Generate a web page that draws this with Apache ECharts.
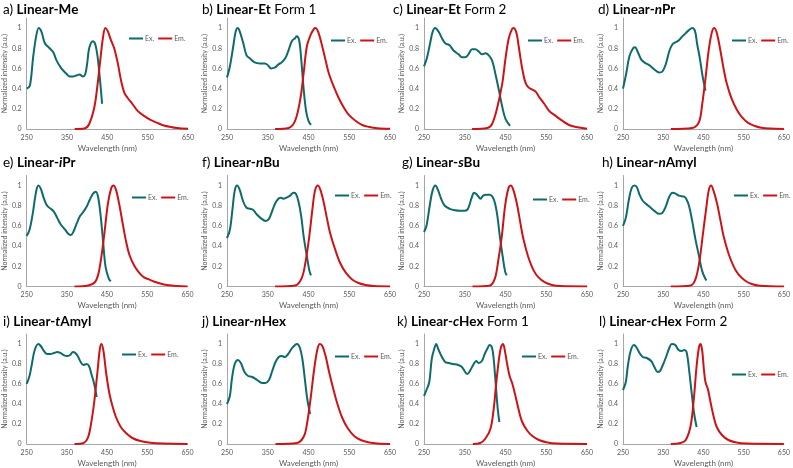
<!DOCTYPE html>
<html><head><meta charset="utf-8">
<script src="https://cdn.jsdelivr.net/npm/echarts@6/dist/echarts.min.js"></script>
<style>html,body{margin:0;padding:0;background:#fff}#c{width:793px;height:468px}</style>
</head><body><div id="c"></div>
<script>
// ---- data ----
const xTicks = [250, 350, 450, 550, 650];
const yTicks = [0, 0.2, 0.4, 0.6, 0.8, 1];
const seriesNames = ['Ex.', 'Em.'];
const titles = [
  ['a) ', 'Linear-Me'],
  ['b) ', 'Linear-Et', ' Form 1'],
  ['c) ', 'Linear-Et', ' Form 2'],
  ['d) ', 'Linear-', 'n', 'Pr'],
  ['e) ', 'Linear-', 'i', 'Pr'],
  ['f) ', 'Linear-', 'n', 'Bu'],
  ['g) ', 'Linear-', 's', 'Bu'],
  ['h) ', 'Linear-', 'n', 'Amyl'],
  ['i) ', 'Linear-', 't', 'Amyl'],
  ['j) ', 'Linear-', 'n', 'Hex'],
  ['k) ', 'Linear-', 'c', 'Hex', ' Form 1'],
  ['l) ', 'Linear-', 'c', 'Hex', ' Form 2']
];
const exA = [[250,0.40],[258,0.43],[266,0.71],[274,0.93],[280,1.0],[287,0.96],[295,0.85],[307,0.80],[316,0.76],[324,0.68],[336,0.60],[348,0.55],[357,0.52],[365,0.52],[373,0.53],[381,0.54],[389,0.52],[395,0.54],[400,0.65],[405,0.80],[414,0.87],[420,0.84],[426,0.71],[432,0.48],[437,0.25]];
const emA = [[369,0],[393,0.005],[405,0.05],[418,0.22],[426,0.45],[433,0.70],[439,0.90],[445,1.0],[451,0.97],[459,0.88],[467,0.80],[476,0.65],[484,0.48],[492,0.36],[500,0.31],[512,0.25],[525,0.18],[541,0.13],[557,0.09],[574,0.06],[590,0.035],[607,0.02],[623,0.01],[650,0.002]];
const exB = [[250,0.51],[257,0.62],[265,0.81],[271,0.96],[276,1.0],[281,0.97],[290,0.85],[298,0.73],[306,0.70],[318,0.66],[331,0.65],[343,0.65],[351,0.63],[358,0.60],[368,0.61],[376,0.64],[384,0.66],[393,0.70],[401,0.78],[409,0.87],[417,0.90],[421,0.92],[427,0.88],[432,0.70],[438,0.40],[444,0.18],[450,0.08],[456,0.04]];
const emB = [[368,0],[401,0.01],[417,0.08],[430,0.30],[438,0.55],[446,0.82],[455,0.93],[463,0.99],[467,1.0],[474,0.96],[483,0.83],[492,0.68],[500,0.55],[512,0.42],[525,0.30],[537,0.21],[549,0.14],[566,0.08],[582,0.04],[599,0.02],[619,0.007],[650,0.002]];
const exC = [[250,0.62],[257,0.70],[265,0.85],[271,0.96],[277,1.0],[285,0.97],[294,0.90],[302,0.85],[313,0.83],[322,0.78],[335,0.74],[343,0.71],[351,0.71],[359,0.74],[368,0.79],[376,0.79],[384,0.77],[392,0.74],[401,0.75],[409,0.73],[417,0.68],[425,0.55],[434,0.38],[442,0.22],[450,0.10],[461,0.03]];
const emC = [[368,0],[405,0.01],[417,0.05],[429,0.20],[442,0.45],[450,0.70],[458,0.90],[466,0.99],[470,1.0],[477,0.95],[482,0.83],[491,0.60],[499,0.46],[507,0.41],[516,0.39],[524,0.37],[532,0.32],[545,0.25],[557,0.18],[573,0.13],[590,0.08],[606,0.04],[623,0.02],[650,0.003]];
const exD = [[250,0.40],[258,0.55],[266,0.72],[275,0.80],[280,0.81],[287,0.76],[295,0.69],[303,0.66],[316,0.63],[328,0.59],[340,0.56],[348,0.57],[357,0.65],[365,0.77],[373,0.84],[381,0.86],[389,0.88],[398,0.92],[406,0.95],[414,0.98],[422,1.0],[429,0.97],[434,0.85],[441,0.70],[448,0.52],[455,0.38]];
const emD = [[369,0],[422,0.01],[439,0.07],[447,0.25],[455,0.50],[463,0.78],[471,0.96],[477,1.0],[484,0.94],[492,0.78],[500,0.60],[508,0.45],[520,0.30],[533,0.19],[545,0.12],[561,0.06],[578,0.03],[594,0.012],[615,0.004],[650,0.001]];
const exE = [[250,0.50],[257,0.56],[265,0.72],[273,0.93],[279,1.0],[285,0.97],[293,0.87],[301,0.80],[310,0.77],[318,0.74],[326,0.68],[334,0.62],[346,0.56],[354,0.52],[360,0.51],[366,0.54],[375,0.63],[383,0.70],[391,0.74],[399,0.79],[407,0.86],[415,0.92],[422,0.94],[428,0.88],[434,0.70],[440,0.45],[446,0.20],[454,0.08],[459,0.05]];
const emE = [[369,0],[403,0.01],[419,0.04],[428,0.12],[436,0.30],[444,0.55],[452,0.82],[460,0.97],[466,1.0],[472,0.96],[480,0.82],[489,0.62],[497,0.45],[505,0.32],[517,0.21],[529,0.14],[542,0.09],[554,0.07],[566,0.05],[582,0.03],[599,0.015],[623,0.005],[650,0.001]];
const exF = [[250,0.48],[257,0.56],[263,0.75],[269,0.95],[275,1.0],[281,0.96],[290,0.84],[298,0.78],[306,0.77],[314,0.76],[322,0.72],[335,0.67],[345,0.65],[353,0.67],[361,0.75],[369,0.83],[376,0.87],[382,0.88],[388,0.87],[396,0.88],[405,0.90],[413,0.93],[419,0.92],[425,0.85],[432,0.70],[438,0.50],[446,0.30],[452,0.16],[456,0.11]];
const emF = [[368,0],[417,0.01],[433,0.08],[443,0.25],[452,0.50],[460,0.78],[466,0.95],[473,1.0],[479,0.96],[487,0.84],[495,0.68],[503,0.53],[516,0.36],[528,0.23],[541,0.14],[557,0.07],[573,0.035],[590,0.015],[610,0.005],[650,0.001]];
const exG = [[250,0.54],[256,0.60],[264,0.80],[271,0.95],[278,1.0],[284,0.96],[293,0.86],[301,0.80],[313,0.77],[326,0.755],[338,0.75],[350,0.75],[358,0.77],[367,0.88],[373,0.93],[380,0.91],[389,0.87],[395,0.90],[404,0.91],[412,0.91],[418,0.89],[424,0.83],[430,0.70],[436,0.50],[443,0.30],[449,0.15],[453,0.11]];
const emG = [[369,0],[412,0.01],[424,0.08],[432,0.25],[441,0.50],[449,0.80],[457,0.97],[463,1.0],[469,0.96],[478,0.82],[486,0.64],[494,0.47],[506,0.29],[519,0.16],[531,0.09],[547,0.04],[564,0.015],[584,0.005],[650,0.001]];
const exH = [[250,0.60],[257,0.68],[265,0.87],[272,0.98],[279,1.0],[285,0.98],[291,0.91],[299,0.85],[307,0.82],[316,0.79],[328,0.75],[340,0.72],[348,0.73],[357,0.80],[365,0.89],[373,0.93],[381,0.92],[389,0.90],[402,0.89],[407,0.87],[414,0.80],[422,0.65],[430,0.47],[439,0.30],[447,0.15],[457,0.06]];
const emH = [[369,0],[418,0.01],[430,0.07],[440,0.25],[448,0.50],[457,0.78],[463,0.95],[469,1.0],[475,0.95],[484,0.82],[492,0.66],[500,0.50],[512,0.33],[525,0.20],[537,0.12],[553,0.06],[570,0.025],[590,0.008],[650,0.001]];
const exI = [[250,0.60],[257,0.68],[263,0.80],[270,0.94],[279,1.0],[285,0.98],[293,0.93],[301,0.90],[309,0.90],[318,0.91],[326,0.92],[334,0.91],[342,0.89],[350,0.88],[358,0.89],[365,0.92],[371,0.91],[377,0.88],[383,0.83],[391,0.79],[399,0.80],[405,0.78],[411,0.70],[418,0.60],[424,0.47]];
const emI = [[369,0],[391,0.01],[402,0.06],[410,0.20],[418,0.42],[426,0.72],[432,0.95],[436,1.0],[441,0.93],[448,0.70],[456,0.50],[464,0.37],[472,0.27],[484,0.17],[497,0.11],[513,0.06],[533,0.03],[558,0.012],[590,0.004],[650,0.001]];
const exJ = [[250,0.40],[257,0.48],[262,0.65],[269,0.80],[277,0.84],[284,0.81],[293,0.72],[302,0.68],[312,0.67],[324,0.64],[336,0.61],[344,0.61],[353,0.64],[361,0.73],[369,0.82],[377,0.87],[384,0.88],[392,0.87],[400,0.90],[408,0.95],[417,0.99],[422,1.0],[429,0.96],[435,0.85],[441,0.65],[447,0.45],[454,0.30]];
const emJ = [[369,0],[422,0.01],[439,0.08],[447,0.22],[455,0.45],[464,0.75],[472,0.95],[478,1.0],[484,0.98],[492,0.88],[500,0.73],[509,0.58],[521,0.40],[533,0.26],[546,0.16],[562,0.08],[578,0.04],[599,0.015],[619,0.005],[650,0.001]];
const exK = [[250,0.48],[257,0.55],[263,0.62],[269,0.85],[275,0.95],[280,1.0],[285,0.95],[294,0.87],[302,0.82],[310,0.81],[322,0.80],[334,0.79],[343,0.77],[351,0.72],[356,0.70],[364,0.74],[372,0.80],[378,0.83],[384,0.81],[392,0.83],[399,0.90],[405,0.95],[411,0.99],[417,0.96],[421,0.85],[426,0.60],[431,0.35],[435,0.22]];
const emK = [[370,0],[388,0.01],[400,0.05],[413,0.15],[421,0.35],[427,0.60],[434,0.85],[439,0.97],[444,1.0],[449,0.92],[454,0.80],[460,0.68],[467,0.60],[475,0.47],[483,0.33],[491,0.22],[504,0.13],[516,0.08],[532,0.04],[553,0.015],[577,0.005],[650,0.001]];
const exL = [[250,0.54],[257,0.62],[262,0.78],[269,0.93],[277,0.99],[283,0.97],[291,0.91],[299,0.87],[309,0.86],[320,0.83],[328,0.77],[336,0.72],[342,0.73],[348,0.78],[357,0.87],[365,0.96],[371,1.0],[380,0.99],[388,0.94],[396,0.93],[402,0.94],[408,0.92],[414,0.75],[421,0.50],[427,0.30],[433,0.17]];
const emL = [[369,0],[393,0.01],[406,0.04],[418,0.18],[426,0.45],[433,0.78],[439,0.97],[443,1.0],[447,0.93],[451,0.75],[455,0.62],[461,0.55],[467,0.43],[475,0.28],[483,0.17],[496,0.09],[512,0.04],[532,0.015],[557,0.005],[650,0.001]];
const exData = [exA, exB, exC, exD, exE, exF, exG, exH, exI, exJ, exK, exL];
const emData = [emA, emB, emC, emD, emE, emF, emG, emH, emI, emJ, emK, emL];

// ---- layout ----
const colLeft = [[25, 227, 424, 623], [24.5, 227, 424, 623], [24.5, 227, 424, 623]];
const colW = 163;
const rowTop = [18, 175.5, 334];
const rowH = [111, 111, 112];
const titleX = [[3, 202, 393, 598], [3, 202, 402, 602], [3, 202, 397, 599]];
const titleY = [3, 156, 315];
const legendPos = [[[129, 35], [331, 37], [528, 37], [732, 37]],
                   [[132, 194], [335, 192], [533, 196], [734, 192]],
                   [[122, 351], [335, 353], [522, 353], [732, 371]]];
const TEAL = '#0e6b6b', RED = '#cc1417';
const FONT = 'Lato';

const grid = [], xAxis = [], yAxis = [], series = [], title = [], legend = [];
for (let i = 0; i < 12; i++) {
  const r = Math.floor(i / 4), c = i % 4;
  grid.push({left: colLeft[r][c], top: rowTop[r], width: colW, height: rowH[r], containLabel: false});
  xAxis.push({
    type: 'value', gridIndex: i, min: xTicks[0], max: xTicks[xTicks.length - 1], interval: 100,
    name: 'Wavelength (nm)', nameLocation: 'middle', nameGap: 15,
    nameTextStyle: {fontFamily: FONT, fontSize: 8, color: '#595959'},
    axisLine: {lineStyle: {color: '#a6a6a6', width: 1}},
    axisTick: {show: false}, splitLine: {show: false},
    axisLabel: {fontFamily: FONT, fontSize: 7, color: '#595959', margin: 5}
  });
  yAxis.push({
    type: 'value', gridIndex: i, min: 0, max: 1.1, interval: 0.2,
    name: 'Normalized intensity (a.u.)', nameLocation: 'middle', nameGap: 15,
    nameTextStyle: {fontFamily: FONT, fontSize: 7, color: '#595959'},
    axisLine: {show: true, lineStyle: {color: '#a6a6a6', width: 1}},
    axisTick: {show: false}, splitLine: {show: false},
    axisLabel: {fontFamily: FONT, fontSize: 7, color: '#595959', margin: 5,
      formatter: v => (yTicks.some(t => Math.abs(t - v) < 1e-6) ? String(Math.round(v * 10) / 10) : '')}
  });
  series.push({name: seriesNames[0], type: 'line', xAxisIndex: i, yAxisIndex: i, data: exData[i],
    smooth: 0.35, showSymbol: false, lineStyle: {color: TEAL, width: 2}, itemStyle: {color: TEAL}, silent: true});
  series.push({name: seriesNames[1], type: 'line', xAxisIndex: i, yAxisIndex: i, data: emData[i],
    smooth: 0.35, showSymbol: false, lineStyle: {color: RED, width: 2}, itemStyle: {color: RED}, silent: true});
  const parts = titles[i];
  let txt = '{n|' + parts[0] + '}';
  if (parts.length === 2) txt += '{b|' + parts[1] + '}';
  else if (parts.length === 3) txt += '{b|' + parts[1] + '}{n|' + parts[2] + '}';
  else {
    txt += '{b|' + parts[1] + '}{bi|' + parts[2] + '}{b|' + parts[3] + '}';
    if (parts[4]) txt += '{n|' + parts[4] + '}';
  }
  title.push({text: txt, left: titleX[r][c], top: titleY[r], padding: 0,
    textStyle: {rich: {
      n: {fontFamily: FONT, fontSize: 13.5, color: '#000', fontWeight: 'normal'},
      b: {fontFamily: FONT, fontSize: 13.5, color: '#000', fontWeight: 'bold'},
      bi: {fontFamily: FONT, fontSize: 13.5, color: '#000', fontWeight: 'bold', fontStyle: 'italic'}
    }}});
  legend.push({data: seriesNames, left: legendPos[r][c][0], top: legendPos[r][c][1], padding: 0,
    itemWidth: 14, itemHeight: 2, itemGap: 4, icon: 'rect', selectedMode: false,
    textStyle: {fontFamily: FONT, fontSize: 7, color: '#595959', padding: [0, 0, 0, -3]}});
}

const chart = echarts.init(document.getElementById('c'), null, {renderer: 'canvas'});
chart.setOption({animation: false, backgroundColor: '#fff', title, legend, grid, xAxis, yAxis, series});
</script></body></html>
